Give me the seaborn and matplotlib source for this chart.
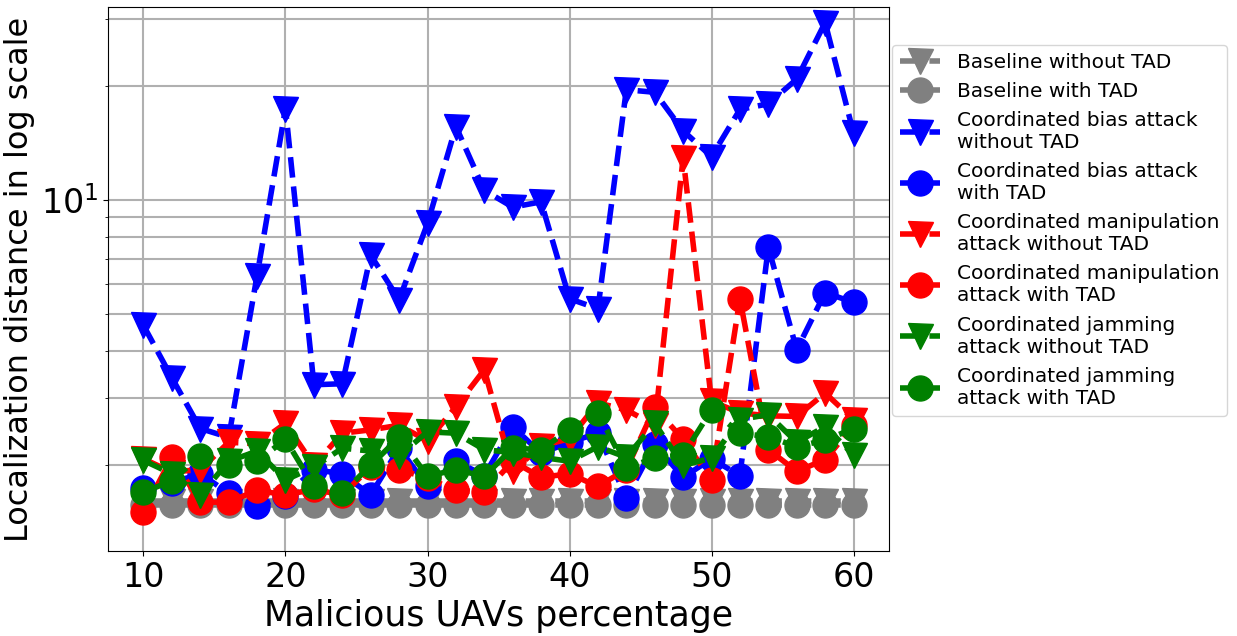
import matplotlib
matplotlib.use("Agg")
import matplotlib.pyplot as plt
import numpy as np
import pandas as pd
import seaborn as sns


percentages = list(range(10, 62, 2))

baselineWithout = [1.61] * 26
baselineWith = [1.57] * 26

biasWithout = [4.67, 3.40, 2.50, 2.37, 6.32, 17.4, 3.26, 3.28, 7.15, 5.46,
               8.67, 15.6, 10.6, 9.57, 9.88, 5.49, 5.17, 19.5, 19.2, 15.2,
               13.0, 17.3, 17.9, 20.8, 29.3, 15.0]
biasWith = [1.74, 1.80, 1.90, 1.69, 1.56, 1.66, 1.95, 1.90, 1.67, 2.22,
            1.76, 2.05, 1.88, 2.53, 2.15, 2.30, 2.43, 1.64, 2.27, 1.86,
            2.08, 1.88, 7.50, 4.03, 5.70, 5.37]

manipWithout = [2.08, 1.92, 1.95, 2.30, 2.28, 2.58, 2.00, 2.43, 2.48, 2.55,
                2.32, 2.85, 3.57, 1.93, 2.25, 2.35, 2.92, 2.80, 2.55, 12.9,
                2.95, 2.75, 2.70, 2.69, 3.10, 2.64]
manipWith = [1.51, 2.10, 1.60, 1.60, 1.72, 1.67, 1.73, 1.67, 1.98, 1.95,
             1.85, 1.72, 1.70, 2.05, 1.86, 1.90, 1.76, 1.95, 2.84, 2.34,
             1.83, 5.49, 2.20, 1.93, 2.07, 2.55]

jamWithout = [2.06, 1.90, 1.67, 2.05, 2.18, 1.83, 1.98, 2.22, 2.18, 2.12,
              2.45, 2.43, 2.20, 2.16, 2.10, 2.05, 2.24, 2.10, 2.58, 2.00,
              2.09, 2.64, 2.72, 2.30, 2.53, 2.13]
jamWith = [1.70, 1.82, 2.12, 2.00, 2.05, 2.34, 1.76, 1.69, 2.00, 2.37,
           1.87, 1.95, 1.87, 2.22, 2.20, 2.48, 2.75, 1.97, 2.09, 2.13,
           2.80, 2.43, 2.38, 2.24, 2.33, 2.50]

seriesLabels = ["Baseline without TAD", "Baseline with TAD",
                "Coordinated bias attack\nwithout TAD", "Coordinated bias attack\nwith TAD",
                "Coordinated manipulation\nattack without TAD", "Coordinated manipulation\nattack with TAD",
                "Coordinated jamming\nattack without TAD", "Coordinated jamming\nattack with TAD"]
seriesValues = [baselineWithout, baselineWith, biasWithout, biasWith,
                manipWithout, manipWith, jamWithout, jamWith]
seriesColors = ["gray", "gray", "blue", "blue", "red", "red", "green", "green"]
seriesMarkers = ["v", "o", "v", "o", "v", "o", "v", "o"]


def main():
    fig = plt.figure(figsize=(12.37, 6.36), dpi=100)
    ax = fig.add_axes([0.0873, 0.1337, 0.7187 - 0.0873, 0.989 - 0.1337])

    for label, values, color, marker in zip(seriesLabels, seriesValues, seriesColors, seriesMarkers):
        df = pd.DataFrame({"x": percentages, "y": values})
        sns.lineplot(data=df, x="x", y="y", ax=ax, color=color, marker=marker,
                     markersize=18, markeredgecolor=color, markeredgewidth=1,
                     linestyle="--", linewidth=4, label=label)

    ax.set_yscale("log")
    ax.set_ylim(1.19, 32.2)
    ax.set_xlim(7.5, 62.5)
    ax.grid(which="both", color="#b0b0b0", linewidth=1.5)
    ax.set_axisbelow(True)

    ax.tick_params(axis="both", which="major", labelsize=24)
    ax.set_xlabel("Malicious UAVs percentage", fontsize=25)
    ax.set_ylabel("Localization distance in log scale", fontsize=23)

    ax.legend(loc="upper left", bbox_to_anchor=(1.004, 0.93), borderaxespad=0,
              fontsize=14.5)

    plt.savefig("out.png", dpi=100)


if __name__ == "__main__":
    main()
